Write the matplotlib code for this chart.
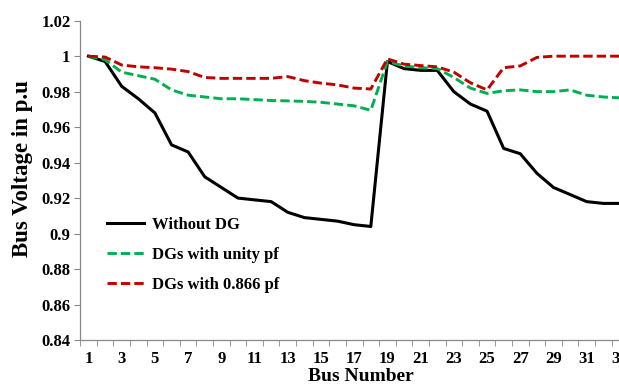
import matplotlib
matplotlib.use('Agg')
import matplotlib.pyplot as plt
from matplotlib.ticker import FixedLocator

plt.rcParams['font.family'] = ['Liberation Serif', 'DejaVu Serif']
plt.rcParams['font.weight'] = 'bold'

buses = list(range(1, 34))

without_dg = [1.0, 0.997, 0.983, 0.976, 0.968, 0.950, 0.946, 0.932, 0.926, 0.920,
              0.919, 0.918, 0.912, 0.909, 0.908, 0.907, 0.905, 0.904, 0.997, 0.993,
              0.992, 0.992, 0.980, 0.973, 0.969, 0.948, 0.945, 0.934, 0.926, 0.922,
              0.918, 0.917, 0.917]

unity_pf = [1.0, 0.998, 0.991, 0.989, 0.987, 0.981, 0.978, 0.977, 0.976, 0.976,
            0.9755, 0.975, 0.9748, 0.9745, 0.974, 0.973, 0.972, 0.9695, 0.997, 0.9945,
            0.9935, 0.993, 0.988, 0.982, 0.979, 0.9805, 0.981, 0.980, 0.980, 0.981,
            0.978, 0.977, 0.9765]

pf_0866 = [1.0, 0.9995, 0.995, 0.994, 0.9935, 0.9927, 0.9913, 0.988, 0.9875, 0.9875,
           0.9875, 0.9875, 0.9885, 0.9862, 0.9848, 0.9838, 0.982, 0.9815, 0.9985, 0.9955,
           0.9947, 0.994, 0.991, 0.985, 0.981, 0.9935, 0.9945, 0.9993, 1.0, 1.0,
           1.0, 1.0, 1.0]

fig = plt.figure(figsize=(6.19, 3.84), dpi=100)
ax = fig.add_axes([80.2 / 619, 44 / 384, 548 / 619, 319.3 / 384])

ax.plot(buses, without_dg, color='black', lw=2.2, label='Without DG')
ax.plot(buses, unity_pf, color='#00B050', lw=2.1, dashes=(3.2, 1.4), label='DGs with unity pf')
ax.plot(buses, pf_0866, color='#C00000', lw=2.1, dashes=(3.2, 1.4), label='DGs with 0.866 pf')

ax.set_xlim(0.5, 33.5)
ax.set_ylim(0.84, 1.02)
ax.set_xticks(range(1, 34, 2))
ax.set_xticklabels([str(b) for b in range(1, 34, 2)], fontsize=12, fontweight='bold')
ax.xaxis.set_minor_locator(FixedLocator([b + 0.5 for b in range(0, 34)]))
ax.tick_params(axis='x', which='major', length=0, pad=8)
ax.tick_params(axis='x', which='minor', length=4, color='#888888', direction='out')
yt = [0.84, 0.86, 0.88, 0.9, 0.92, 0.94, 0.96, 0.98, 1.0, 1.02]
ax.set_yticks(yt)
ax.set_yticklabels(['0.84', '0.86', '0.88', '0.9', '0.92', '0.94', '0.96', '0.98', '1', '1.02'],
                   fontsize=12, fontweight='bold')
ax.tick_params(axis='y', length=4, color='#888888', direction='out', pad=3)

for s in ['top', 'right']:
    ax.spines[s].set_visible(False)
for s in ['left', 'bottom']:
    ax.spines[s].set_color('#888888')
    ax.spines[s].set_linewidth(0.9)

ax.set_xlabel('Bus Number', fontsize=14, fontweight='bold')
ax.xaxis.set_label_coords(0.513, -0.088)
ax.set_ylabel('Bus Voltage in p.u', fontsize=16.5, fontweight='bold')
ax.yaxis.set_label_coords(-0.087, 0.537)

fig.legend(loc='upper left', bbox_to_anchor=(107 / 619, 0.436), frameon=False,
           prop={'size': 12, 'weight': 'bold'}, handlelength=2.2, handletextpad=0.5,
           labelspacing=0.85, borderpad=0, borderaxespad=0)

fig.savefig('out.png', dpi=100)
